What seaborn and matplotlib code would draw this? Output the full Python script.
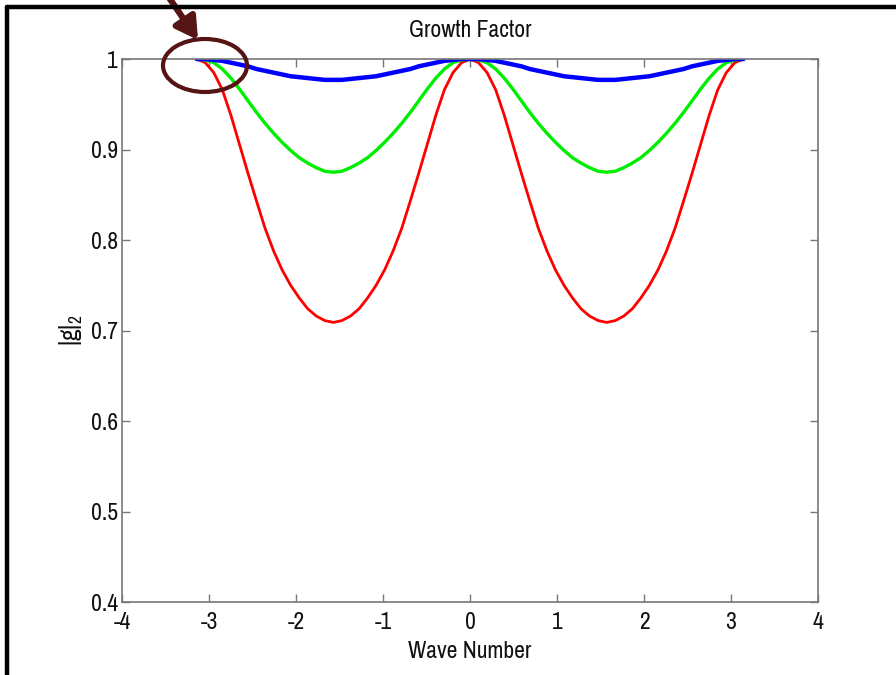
import numpy as np
import pandas as pd
import matplotlib
matplotlib.use('Agg')
import matplotlib.pyplot as plt
import seaborn as sns
from matplotlib.patches import Ellipse
from matplotlib.lines import Line2D

# wave numbers (from -pi to pi)
wave = [-3.142, -3.043, -2.945, -2.847, -2.749, -2.651, -2.553, -2.454,
        -2.356, -2.258, -2.160, -2.062, -1.963, -1.865, -1.767, -1.669,
        -1.571, -1.473, -1.374, -1.276, -1.178, -1.080, -0.982, -0.884,
        -0.785, -0.687, -0.589, -0.491, -0.393, -0.295, -0.196, -0.098,
        0.000,
        0.098, 0.196, 0.295, 0.393, 0.491, 0.589, 0.687, 0.785,
        0.884, 0.982, 1.080, 1.178, 1.276, 1.374, 1.473, 1.571,
        1.669, 1.767, 1.865, 1.963, 2.062, 2.160, 2.258, 2.356,
        2.454, 2.553, 2.651, 2.749, 2.847, 2.945, 3.043, 3.142]

# |g|
g_red = [1.000, 0.996, 0.985, 0.966, 0.938, 0.906, 0.874, 0.843,
         0.813, 0.788, 0.767, 0.750, 0.736, 0.724, 0.716, 0.711,
         0.709, 0.711, 0.716, 0.724, 0.736, 0.750, 0.767, 0.788,
         0.813, 0.843, 0.874, 0.906, 0.938, 0.966, 0.985, 0.996,
         1.000,
         0.996, 0.985, 0.966, 0.938, 0.906, 0.874, 0.843, 0.813,
         0.788, 0.767, 0.750, 0.736, 0.724, 0.716, 0.711, 0.709,
         0.711, 0.716, 0.724, 0.736, 0.750, 0.767, 0.788, 0.813,
         0.843, 0.874, 0.906, 0.938, 0.966, 0.985, 0.996, 1.000]
g_green = [1.000, 0.999, 0.996, 0.989, 0.979, 0.967, 0.954, 0.941,
           0.929, 0.918, 0.908, 0.899, 0.891, 0.885, 0.880, 0.876,
           0.875, 0.876, 0.880, 0.885, 0.891, 0.899, 0.908, 0.918,
           0.929, 0.941, 0.954, 0.967, 0.979, 0.989, 0.996, 0.999,
           1.000,
           0.999, 0.996, 0.989, 0.979, 0.967, 0.954, 0.941, 0.929,
           0.918, 0.908, 0.899, 0.891, 0.885, 0.880, 0.876, 0.875,
           0.876, 0.880, 0.885, 0.891, 0.899, 0.908, 0.918, 0.929,
           0.941, 0.954, 0.967, 0.979, 0.989, 0.996, 0.999, 1.000]
g_blue = [1.000, 1.000, 0.999, 0.998, 0.996, 0.994, 0.992, 0.989,
          0.987, 0.985, 0.983, 0.981, 0.980, 0.979, 0.978, 0.977,
          0.977, 0.977, 0.978, 0.979, 0.980, 0.981, 0.983, 0.985,
          0.987, 0.989, 0.992, 0.994, 0.996, 0.998, 0.999, 1.000,
          1.000,
          1.000, 0.999, 0.998, 0.996, 0.994, 0.992, 0.989, 0.987,
          0.985, 0.983, 0.981, 0.980, 0.979, 0.978, 0.977, 0.977,
          0.977, 0.978, 0.979, 0.980, 0.981, 0.983, 0.985, 0.987,
          0.989, 0.992, 0.994, 0.996, 0.998, 0.999, 1.000, 1.000]

xticks = [-4, -3, -2, -1, 0, 1, 2, 3, 4]
yticks = [0.4, 0.5, 0.6, 0.7, 0.8, 0.9, 1.0]
ytick_labels = ['0.4', '0.5', '0.6', '0.7', '0.8', '0.9', '1']

sns.set_style('white')
# narrow font, close to the MATLAB export
fam = 'Archivo Narrow'
fs = 17
plt.rcParams['font.family'] = [fam, 'Liberation Sans', 'DejaVu Sans']
plt.rcParams['mathtext.fontset'] = 'custom'
plt.rcParams['mathtext.rm'] = fam
plt.rcParams['mathtext.it'] = fam

fig = plt.figure(figsize=(8.96, 6.75), dpi=100)
ax = fig.add_axes([0.1362, 0.1081, 0.7768, 0.8044])

sns.lineplot(x=wave, y=g_red, color='#ff0000', linewidth=2.0, ax=ax)
sns.lineplot(x=wave, y=g_green, color='#00ee00', linewidth=2.4, ax=ax)
sns.lineplot(x=wave, y=g_blue, color='#0000ff', linewidth=3.2, ax=ax)

ax.set_xlim(-4, 4)
ax.set_ylim(0.4, 1.0)
ax.set_xticks(xticks)
ax.set_xticklabels([str(t) for t in xticks])
ax.set_yticks(yticks)
ax.set_yticklabels(ytick_labels)
ax.tick_params(direction='in', length=6, width=1, color='#777777',
               labelsize=fs, labelcolor='#111111', top=True, right=True,
               bottom=True, left=True)
ax.tick_params(axis='x', pad=7)
ax.tick_params(axis='y', pad=3)
for s in ax.spines.values():
    s.set_color('#777777')
    s.set_linewidth(1.2)

ax.set_title('Growth Factor', fontsize=fs, color='#111111', pad=16)
ax.set_xlabel('Wave Number', fontsize=fs, color='#111111', labelpad=6)
ax.set_ylabel(r'|g|$_2$', fontsize=fs + 1, color='#111111', labelpad=4)

# outer frame (left and top edges)
fig.add_artist(Line2D([7 / 896, 7 / 896], [0, 1 - 7 / 675], color='black',
                      linewidth=3.2, transform=fig.transFigure))
fig.add_artist(Line2D([7 / 896, 1], [1 - 7 / 675, 1 - 7 / 675], color='black',
                      linewidth=3.2, transform=fig.transFigure))

# annotation ellipse and arrow
mark = '#561414'
fig.add_artist(Ellipse((205 / 896, 1 - 65.5 / 675), 84 / 896, 53 / 675,
                       fill=False, edgecolor=mark, linewidth=3,
                       transform=fig.transFigure))
ax.annotate('', xy=(198 / 896, 1 - 40 / 675), xycoords='figure fraction',
            xytext=(166 / 896, 1.01), textcoords='figure fraction',
            arrowprops=dict(arrowstyle='-|>,head_length=1.3,head_width=0.75',
                            color=mark, linewidth=4.5, shrinkA=0, shrinkB=0))

fig.savefig('out.png', dpi=100)
